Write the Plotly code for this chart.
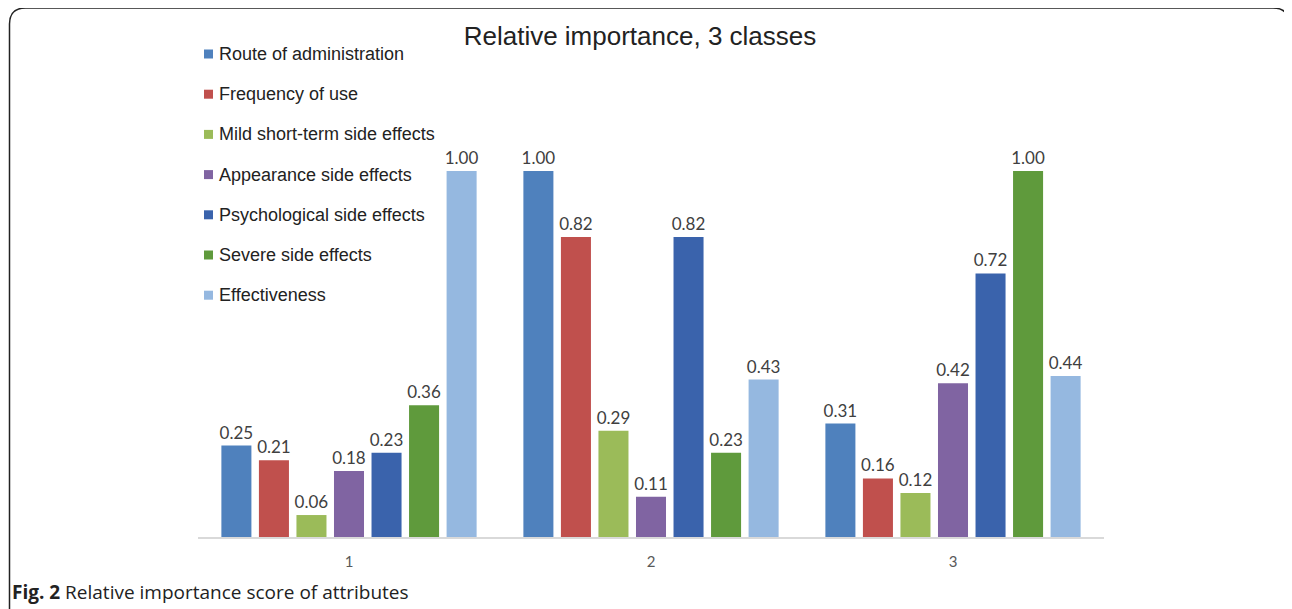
import plotly.graph_objects as go

classes = ["1", "2", "3"]
attributes = ["Route of administration", "Frequency of use", "Mild short-term side effects",
              "Appearance side effects", "Psychological side effects", "Severe side effects",
              "Effectiveness"]
values = {
    "Route of administration": [0.25, 1.00, 0.31],
    "Frequency of use": [0.21, 0.82, 0.16],
    "Mild short-term side effects": [0.06, 0.29, 0.12],
    "Appearance side effects": [0.18, 0.11, 0.42],
    "Psychological side effects": [0.23, 0.82, 0.72],
    "Severe side effects": [0.36, 0.23, 1.00],
    "Effectiveness": [1.00, 0.43, 0.44],
}
colors = ["#4F81BD", "#C0504D", "#9BBB59", "#8064A2", "#3A63AC", "#5F9A3C", "#95B8E0"]

OFF = 8  # page body margin
W, H = 1292 - OFF, 609 - OFF
L, R, T, B = 198 - OFF, 188, 60 - OFF, 72
pw, ph = W - L - R, H - T - B


def px(x):
    return (x - OFF - L) / pw


def py(y):
    return (H - B - (y - OFF)) / ph


fig = go.Figure()
for i, (a, c) in enumerate(zip(attributes, colors)):
    fig.add_trace(go.Bar(
        x=classes, y=values[a], name=a, marker=dict(color=c, line=dict(width=0)),
        texttemplate="%{y:.2f}", textposition="outside", cliponaxis=False,
        constraintext="none",
        textfont=dict(family="Lato", size=17, color="#404040"),
        showlegend=False,
    ))

shapes = []
annotations = []
# manual legend
for i, (a, c) in enumerate(zip(attributes, colors)):
    cy = 54 + i * 40.2
    shapes.append(dict(type="rect", xref="paper", yref="paper",
                       x0=px(204), x1=px(213), y0=py(cy + 4.5), y1=py(cy - 4.5),
                       fillcolor=c, line=dict(width=0)))
    annotations.append(dict(text=a, x=px(217), y=py(cy), xref="paper", yref="paper",
                            xanchor="left", yanchor="middle", showarrow=False,
                            font=dict(family="Liberation Sans", size=18, color="#222222")))

# rounded frame
x0, x1 = px(9.5), px(1289)
y0, y1 = py(8), py(640)
rx, ry = 16 / pw, 16 / ph
path = (f"M {x0},{y1} L {x0},{y0 - ry} Q {x0},{y0} {x0 + rx},{y0} "
        f"L {x1 - rx},{y0} Q {x1},{y0} {x1},{y0 - ry} L {x1},{y1}")
shapes.append(dict(type="path", path=path, xref="paper", yref="paper",
                   line=dict(color="#222222", width=1.5)))

annotations.append(dict(text="<b>Fig. 2</b> Relative importance score of attributes",
                        x=px(10), y=py(592), xref="paper", yref="paper",
                        xanchor="left", yanchor="middle", showarrow=False,
                        font=dict(family="Open Sans", size=19, color="#222222")))

fig.update_layout(
    width=W, height=H,
    margin=dict(l=L, r=R, t=T, b=B),
    paper_bgcolor="white", plot_bgcolor="white",
    barmode="group", bargap=0.13, bargroupgap=0.2,
    title=dict(text="Relative importance, 3 classes", x=px(640), xref="paper",
               xanchor="center", y=1 - (36 - OFF) / H, yanchor="middle",
               font=dict(family="Liberation Sans", size=26, color="#222222")),
    xaxis=dict(showline=True, linecolor="#D9D9D9", linewidth=1.5, ticks="",
               ticklabelstandoff=10,
               tickfont=dict(family="Lato", size=15, color="#595959"), showgrid=False),
    yaxis=dict(range=[0, ph / 366], visible=False, showgrid=False),
    shapes=shapes,
    annotations=annotations,
)

fig.write_html("out.html")
